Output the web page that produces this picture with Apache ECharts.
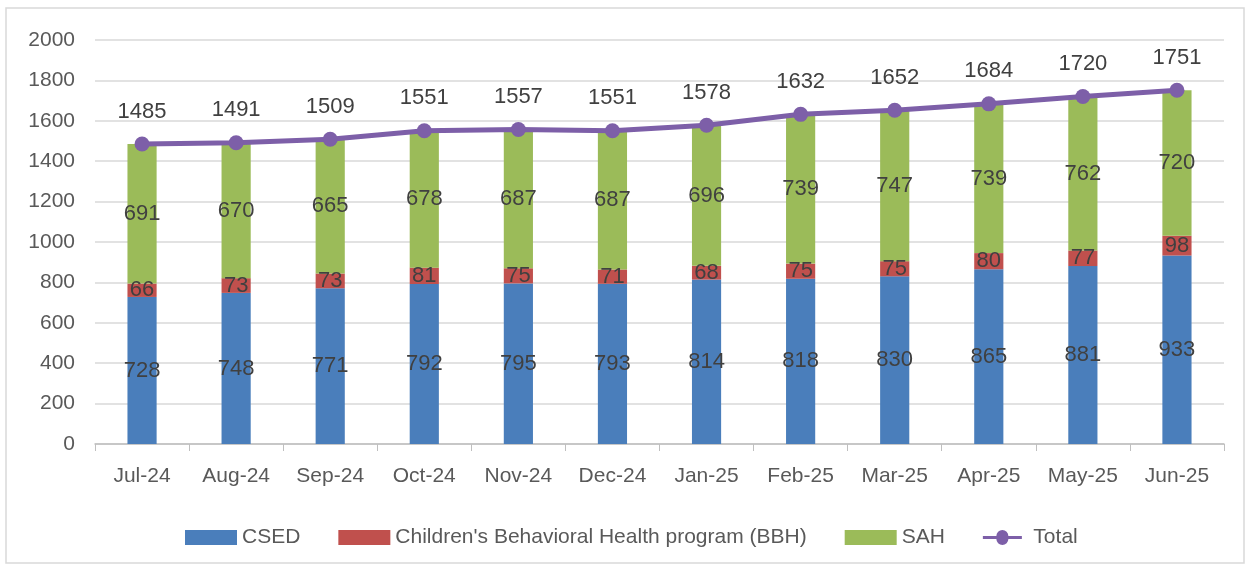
<!DOCTYPE html>
<html><head><meta charset="utf-8">
<script src="https://cdn.jsdelivr.net/npm/echarts@6/dist/echarts.min.js"></script>
<style>html,body{margin:0;padding:0;background:#fff}#c{width:1251px;height:571px}</style>
</head><body><div id="c"></div>
<script>
const categories = ['Jul-24','Aug-24','Sep-24','Oct-24','Nov-24','Dec-24','Jan-25','Feb-25','Mar-25','Apr-25','May-25','Jun-25'];
const csed = [728,748,771,792,795,793,814,818,830,865,881,933];
const bbh = [66,73,73,81,75,71,68,75,75,80,77,98];
const sah = [691,670,665,678,687,687,696,739,747,739,762,720];
const total = [1485,1491,1509,1551,1557,1551,1578,1632,1652,1684,1720,1751];
const yTicks = {min:0, max:2000, interval:200};

const FONT = '"Liberation Sans", Arial, sans-serif';
const chart = echarts.init(document.getElementById('c'), null, {renderer:'canvas'});
const barLabel = {show:true, position:'inside', color:'#404040', fontSize:22, fontFamily:FONT};
chart.setOption({
  animation:false,
  graphic:[{type:'rect', shape:{x:6,y:8,width:1238,height:555}, style:{fill:'none', stroke:'#d9d9d9', lineWidth:1.5}, z:-1}],
  grid:{left:95, right:27, top:40, bottom:127},
  legend:{
    left:180, top:522, itemWidth:52, itemHeight:15, itemGap:38,
    textStyle:{color:'#595959', fontSize:21, fontFamily:FONT},
    data:[{name:'CSED', icon:'rect'},{name:"Children's Behavioral Health program (BBH)", icon:'rect'},{name:'SAH', icon:'rect'},{name:'Total', icon:'path://M0,6 L18,6 A6,6 0 0 1 34,6 L52,6 L52,10 L34,10 A6,6 0 0 1 18,10 L0,10 Z'}]
  },
  xAxis:{
    type:'category', data:categories, boundaryGap:true,
    axisLine:{lineStyle:{color:'#bfbfbf', width:1.5}},
    axisTick:{show:true, length:7, lineStyle:{color:'#bfbfbf'}},
    axisLabel:{color:'#595959', fontSize:21, fontFamily:FONT, margin:22}
  },
  yAxis:{
    type:'value', min:yTicks.min, max:yTicks.max, interval:yTicks.interval,
    axisLine:{show:false}, axisTick:{show:false},
    splitLine:{lineStyle:{color:'#d9d9d9', width:1.5}},
    axisLabel:{color:'#595959', fontSize:21, fontFamily:FONT, margin:20, formatter:v=>String(v)}
  },
  series:[
    {name:'CSED', type:'bar', stack:'s', data:csed, barWidth:'31%', itemStyle:{color:'#4a7ebb'}, label:barLabel},
    {name:"Children's Behavioral Health program (BBH)", type:'bar', stack:'s', data:bbh, itemStyle:{color:'#c0504d'}, label:barLabel},
    {name:'SAH', type:'bar', stack:'s', data:sah, itemStyle:{color:'#9bbb59'}, label:barLabel},
    {name:'Total', type:'line', data:total, symbol:'circle', symbolSize:15,
     lineStyle:{color:'#7d5fa8', width:5}, itemStyle:{color:'#7d5fa8'},
     label:{show:true, position:'top', distance:14, color:'#404040', fontSize:22, fontFamily:FONT}, z:5}
  ]
});
</script></body></html>
